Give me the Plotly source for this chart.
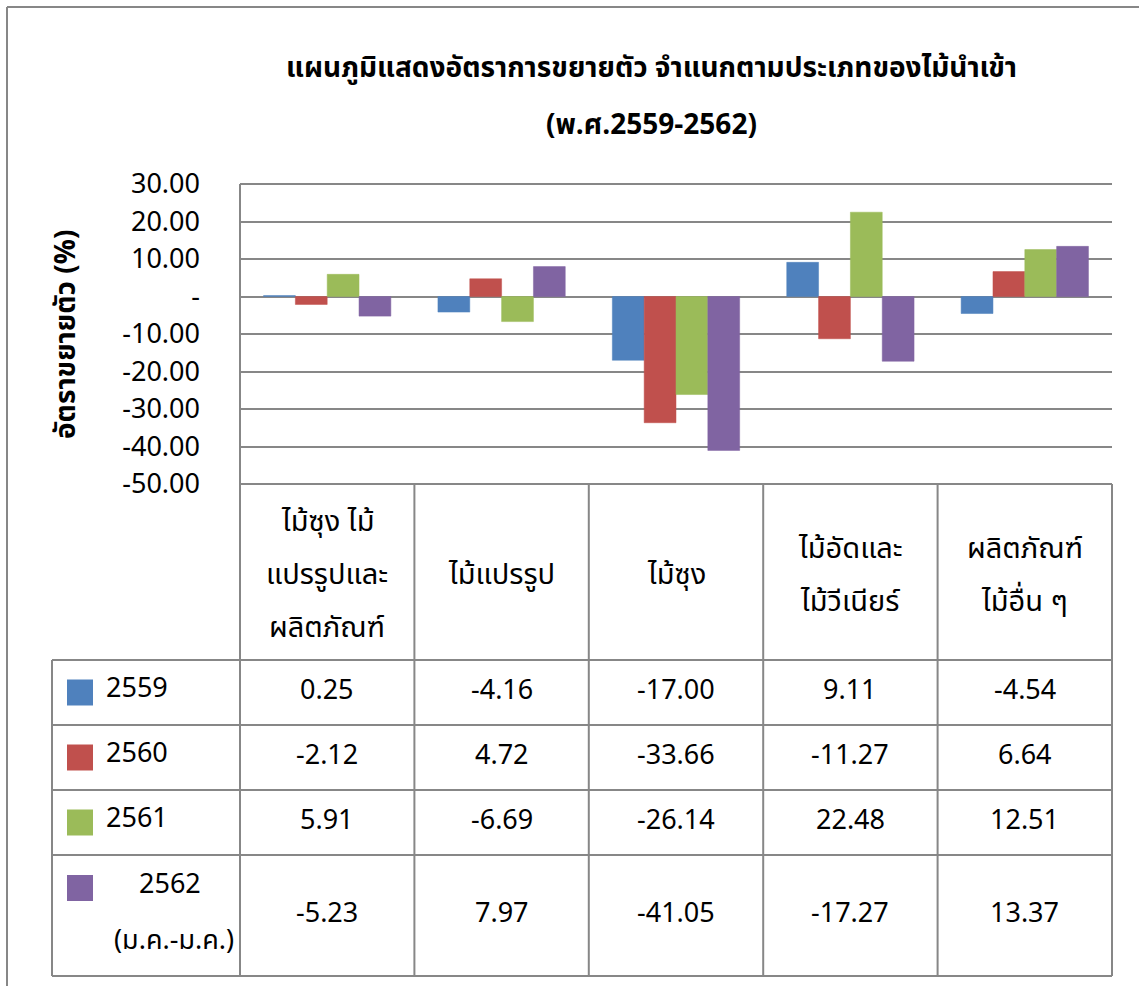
import plotly.graph_objects as go

W, H = 1139, 986

# ---------------- data ----------------
categories = ["ไม้ซุง ไม้แปรรูปและผลิตภัณฑ์", "ไม้แปรรูป", "ไม้ซุง",
              "ไม้อัดและไม้วีเนียร์", "ผลิตภัณฑ์ไม้อื่น ๆ"]
header_lines = [["ไม้ซุง ไม้", "แปรรูปและ", "ผลิตภัณฑ์"],
                ["ไม้แปรรูป"],
                ["ไม้ซุง"],
                ["ไม้อัดและ", "ไม้วีเนียร์"],
                ["ผลิตภัณฑ์", "ไม้อื่น ๆ"]]
series_names = ["2559", "2560", "2561", "2562 (ม.ค.-ม.ค.)"]
values_2559 = [0.25, -4.16, -17.00, 9.11, -4.54]
values_2560 = [-2.12, 4.72, -33.66, -11.27, 6.64]
values_2561 = [5.91, -6.69, -26.14, 22.48, 12.51]
values_2562 = [-5.23, 7.97, -41.05, -17.27, 13.37]
series_values = [values_2559, values_2560, values_2561, values_2562]
colors = ["#4F81BD", "#C0504D", "#9BBB59", "#8064A2"]
tick_vals = [-50, -40, -30, -20, -10, 0, 10, 20, 30]
tick_text = ["-50.00", "-40.00", "-30.00", "-20.00", "-10.00", "-",
             "10.00", "20.00", "30.00"]
title_line1 = "แผนภูมิแสดงอัตราการขยายตัว จำแนกตามประเภทของไม้นำเข้า"
title_line2 = "(พ.ศ.2559-2562)"
y_title = "อัตราขยายตัว (%)"

# ---------------- layout geometry (pixels) ----------------
FONT = "Noto Sans Thai, Noto Sans, sans-serif"
FS = 27
FS_TH = 29
FS_TITLE = 28
GRID = "#878787"
plot_l, plot_r, plot_t, plot_b = 240, 1112, 184, 484
legend_l = 52
row_y = [484, 660, 725, 790, 855, 976]
ncat = len(categories)
col_w = (plot_r - plot_l) / ncat
col_x = [plot_l + i * col_w for i in range(ncat + 1)]


def px(x):
    return x / W


def py(y):
    return 1 - y / H


fig = go.Figure()
for name, vals, col in zip(series_names, series_values, colors):
    fig.add_trace(go.Bar(x=categories, y=vals, name=name,
                         marker=dict(color=col, line=dict(color=col, width=0.5))))

shapes = []


def line(x0, y0, x1, y1, w=2, layer="above"):
    shapes.append(dict(type="line", xref="paper", yref="paper",
                       x0=px(x0), y0=py(y0), x1=px(x1), y1=py(y1),
                       line=dict(color=GRID, width=w), layer=layer))


# outer chart frame (left and top)
line(7, 7, 7, H, 2)
line(7, 7, W, 7, 2)
# plot area top / bottom
line(plot_l, plot_t, plot_r, plot_t, 2, "below")
line(plot_l, plot_b, plot_r, plot_b, 2)
# table horizontal lines
for y in row_y[1:]:
    line(legend_l, y, plot_r, y, 2)
# table vertical lines
line(plot_l, plot_t, plot_l, row_y[-1], 2)
for x in col_x[1:]:
    line(x, row_y[0], x, row_y[-1], 2)
line(legend_l, row_y[1], legend_l, row_y[-1], 2)

annotations = []


def text(x, y, t, size=FS, bold=False, xanchor="center", angle=0):
    annotations.append(dict(xref="paper", yref="paper", x=px(x), y=py(y),
                            text=f"<b>{t}</b>" if bold else t, showarrow=False,
                            xanchor=xanchor, yanchor="middle", textangle=angle,
                            font=dict(family=FONT, size=size, color="#000")))


# titles
text(651, 68, title_line1, FS_TITLE, True)
text(651, 125, title_line2, FS_TITLE, True)
text(66, 335, y_title, FS_TITLE, True, angle=-90)

# header cells
line_gap = 53
hdr_c = (row_y[0] + row_y[1]) / 2 + 3
for i, lines in enumerate(header_lines):
    cx = (col_x[i] + col_x[i + 1]) / 2
    n = len(lines)
    for k, ln in enumerate(lines):
        text(cx, hdr_c + (k - (n - 1) / 2) * line_gap, ln, FS_TH)

# data rows
for r, (name, vals, col) in enumerate(zip(series_names, series_values, colors)):
    y0, y1 = row_y[r + 1], row_y[r + 2]
    cy = (y0 + y1) / 2
    # legend key
    ky = cy if r < 3 else y0 + 33
    shapes.append(dict(type="rect", xref="paper", yref="paper",
                       x0=px(67), x1=px(93), y0=py(ky - 13), y1=py(ky + 13),
                       fillcolor=col, line=dict(width=0)))
    if r < 3:
        text(104, cy - 4, name, xanchor="left")
    else:
        parts = name.split(" ")
        text(170, y0 + 29, parts[0])
        text(174, y0 + 85, parts[1])
    for i, v in enumerate(vals):
        cx = (col_x[i] + col_x[i + 1]) / 2
        text(cx, cy - 2, f"{v:.2f}")

fig.update_layout(
    width=W, height=H,
    margin=dict(l=0, r=0, t=0, b=0, pad=0, autoexpand=False),
    paper_bgcolor="white", plot_bgcolor="white",
    barmode="group", bargap=0.27, bargroupgap=0,
    showlegend=False,
    shapes=shapes, annotations=annotations,
    xaxis=dict(domain=[px(plot_l), px(plot_r)], range=[-0.5, ncat - 0.5],
               showticklabels=False, showgrid=False, zeroline=False,
               showline=False, fixedrange=True, automargin=False),
    yaxis=dict(domain=[py(plot_b), py(plot_t)], range=[-50, 30],
               tickvals=tick_vals, ticktext=tick_text,
               tickfont=dict(family=FONT, size=FS, color="#000"),
               showgrid=True, gridcolor=GRID, gridwidth=2,
               zeroline=True, zerolinecolor=GRID, zerolinewidth=2,
               showline=False, ticks="", ticklabelstandoff=39,
               fixedrange=True, automargin=False),
)

fig.write_html("out.html", config={"displayModeBar": False},
               post_script="document.body.style.margin='0';")
